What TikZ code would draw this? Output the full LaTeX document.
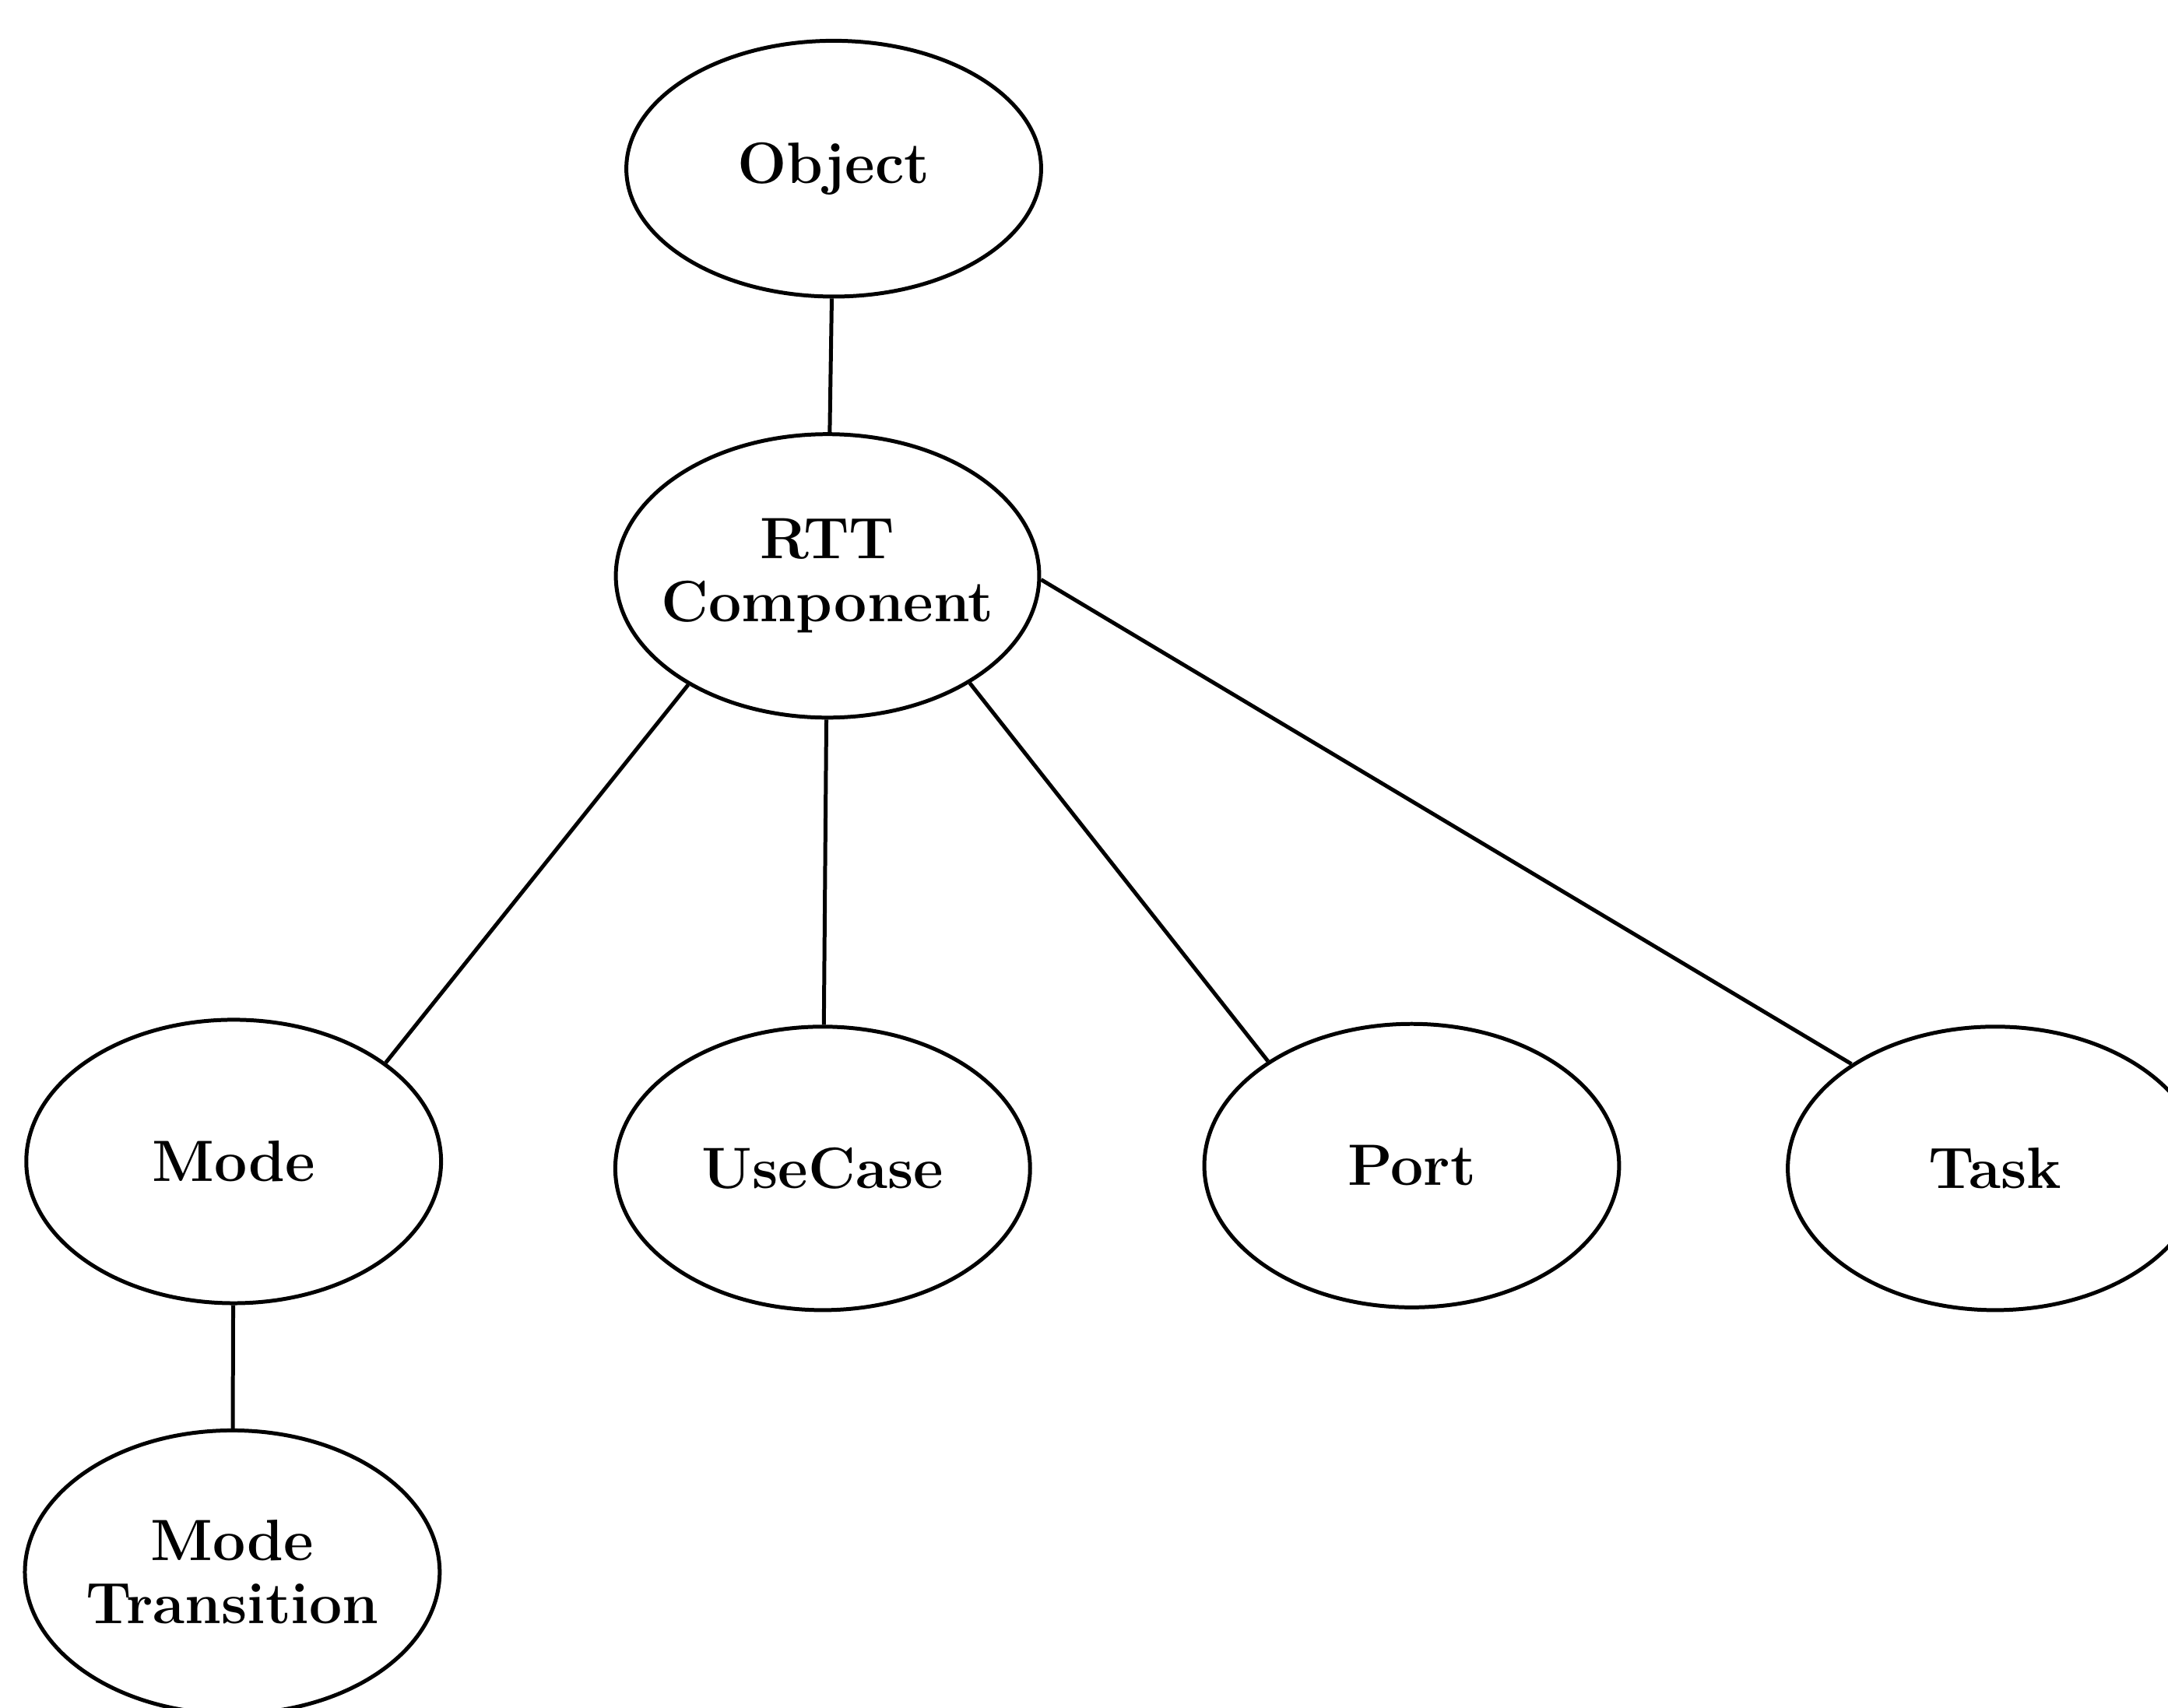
\documentclass[tikz,border=0pt]{standalone}
\usepackage{tikz}
\usetikzlibrary{shapes}
\tikzset{%
    class_node/.style={%
        ellipse, draw, line width=0.8pt, minimum width=3cm, minimum height=2.05cm, text centered, align=center, inner sep=0pt, font=\fontsize{12}{13}\selectfont\bfseries
    },
    link/.style={%
        line width=0.8pt
    },
}
\begin{document}
\begin{tikzpicture}
      \useasboundingbox (0,0) rectangle (15.68,12.35);
      \node[class_node, minimum height=1.85cm] (object) at (6.03,11.13) {Object};
      \node[class_node, inner xsep=-1.2mm] (rtt) at (5.985,8.185) {RTT\\Component};
      \node[class_node] (mode) at (1.69,3.95) {Mode};
      \node[class_node] (usecase) at (5.95,3.90) {UseCase};
      \node[class_node] (port) at (10.21,3.92) {Port};
      \node[class_node] (task) at (14.43,3.90) {Task};
      \node[class_node] (modetrans) at (1.68,0.98) {Mode\\Transition};
      \draw [link] (object) -- (rtt);
      \draw [link] (rtt.218) -- (mode.33);
      \draw [link] (rtt) -- (usecase);
      \draw [link] (rtt.323) -- (port.144);
      \draw [link] (rtt.359) -- (task.144);
      \draw [link] (mode) -- (modetrans);
    \end{tikzpicture}
\end{document}
